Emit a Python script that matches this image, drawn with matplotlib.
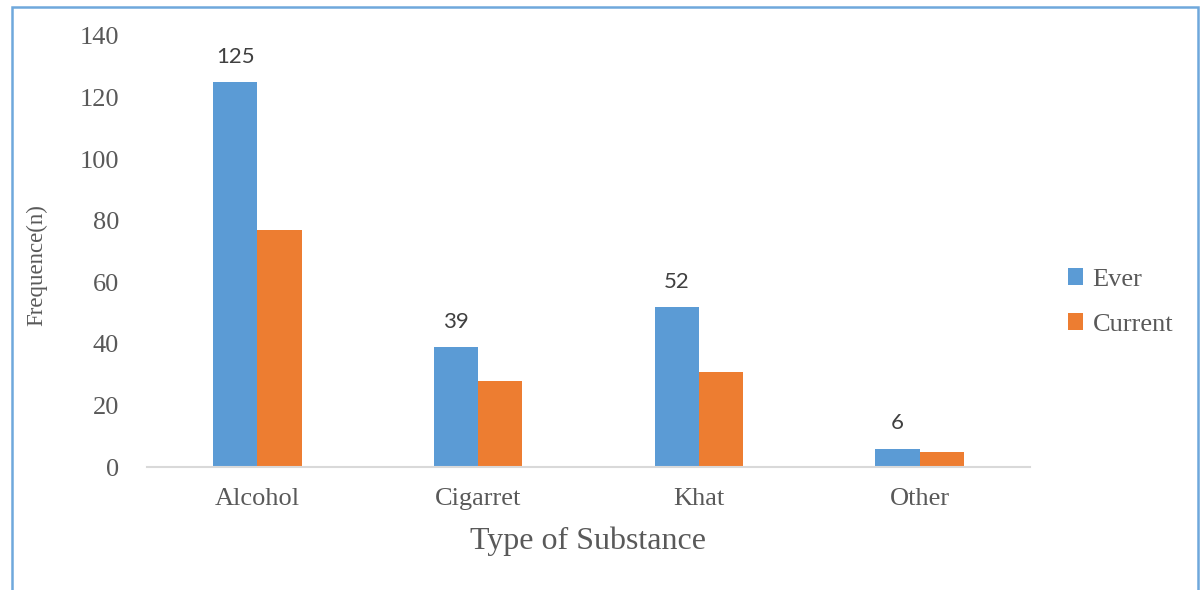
"""Bar chart: ever vs current substance use by type."""
import numpy as np
import matplotlib.pyplot as plt
from matplotlib.patches import Rectangle

categories = ['Alcohol', 'Cigarret', 'Khat', 'Other']
ever = [125, 39, 52, 6]
current = [77, 28, 31, 5]
yticks = [0, 20, 40, 60, 80, 100, 120, 140]

blue = '#5B9BD5'
orange = '#ED7D31'
grey_txt = '#595959'
serif = ['Liberation Serif', 'DejaVu Serif']

fig = plt.figure(figsize=(12.02, 5.9), dpi=100)
ax = fig.add_axes([147 / 1202, 123 / 590, 883 / 1202, 431 / 590])

x = np.arange(len(categories))
w = 0.2
b1 = ax.bar(x - w / 2, ever, w, color=blue, label='Ever')
b2 = ax.bar(x + w / 2, current, w, color=orange, label='Current')

# data labels only on the "Ever" series
for rect, v in zip(b1, ever):
    ax.annotate(str(v), xy=(rect.get_x() + rect.get_width() / 2, v),
                xytext=(0, 11), textcoords='offset points',
                ha='center', va='bottom', fontsize=16,
                family=['Lato', 'DejaVu Sans'], color='#404040')

ax.set_xlim(-0.5, len(categories) - 0.5)
ax.set_ylim(0, 140)
ax.set_yticks(yticks)
ax.set_xticks(x)
ax.set_xticklabels(categories)
for lab in ax.get_xticklabels() + ax.get_yticklabels():
    lab.set_fontfamily(serif)
    lab.set_fontsize(19)
    lab.set_color(grey_txt)
ax.tick_params(axis='both', length=0)
ax.tick_params(axis='x', pad=15)
ax.tick_params(axis='y', pad=20)

for s in ['top', 'right', 'left']:
    ax.spines[s].set_visible(False)
ax.spines['bottom'].set_color('#D9D9D9')
ax.spines['bottom'].set_linewidth(1.5)

fig.text(588 / 1202, 1 - 541 / 590, 'Type of Substance', ha='center', va='center',
         fontsize=23, family=serif, color=grey_txt)
fig.text(37 / 1202, 1 - 265 / 590, 'Frequence(n)', ha='center', va='center',
         rotation=90, fontsize=16.5, family=serif, color=grey_txt)

ax.legend(loc='center left', bbox_to_anchor=(1057 / 1202, 1 - 302 / 590),
          bbox_transform=fig.transFigure, frameon=False,
          prop={'family': serif, 'size': 19}, labelcolor=grey_txt,
          handlelength=0.6, handleheight=0.6, handletextpad=0.35,
          labelspacing=0.85, borderaxespad=0)

# light blue frame around the whole chart
fig.patches.append(Rectangle((12 / 1202, -0.02), 1186 / 1202, 1.02 - 7 / 590,
                             transform=fig.transFigure, fill=False,
                             edgecolor='#6FA8DC', linewidth=1.8))

fig.savefig('out.png', dpi=100, facecolor='white')
